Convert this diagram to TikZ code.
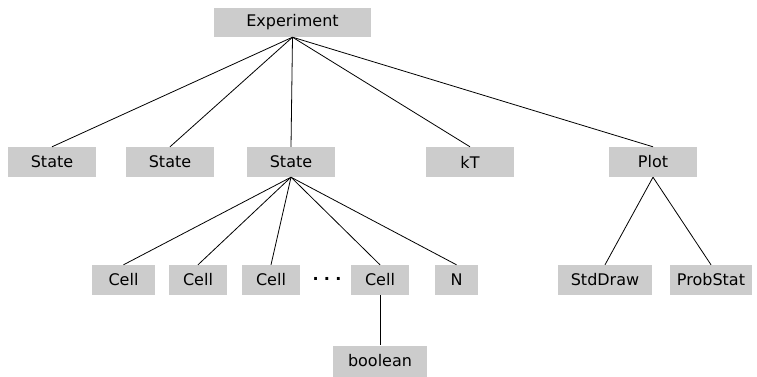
\documentclass[tikz,border=0pt]{standalone}
\usepackage{fontspec}
\setmainfont{DejaVu Sans}
\begin{document}
\begin{tikzpicture}[x=1pt,y=-1pt,
  box/.style={fill=boxgray,draw=none,inner sep=0pt,minimum height=30pt,font=\fontsize{16}{19}\selectfont,text=black},
  link/.style={draw=black,line width=0.8pt}]
\definecolor{boxgray}{HTML}{CCCCCC}
\useasboundingbox (0,0) rectangle (757,377);
\node[box,minimum width=157pt,minimum height=29pt] (exp) at (292.5,22.5) {Experiment};
\node[box,minimum width=88pt] (s1) at (52,162) {State};
\node[box,minimum width=88pt] (s2) at (170,162) {State};
\node[box,minimum width=88pt] (s3) at (291,162) {State};
\node[box,minimum width=88pt] (kt) at (470,162) {kT};
\node[box,minimum width=88pt] (plot) at (653,162) {Plot};
\node[box,minimum width=63pt] (c1) at (123.5,280) {Cell};
\node[box,minimum width=58pt] (c2) at (198,280) {Cell};
\node[box,minimum width=58pt] (c3) at (271,280) {Cell};
\node[font=\fontsize{16}{19}\selectfont\bfseries] (dots) at (327,279) {.\,\,.\,\,.};
\node[box,minimum width=58pt] (c4) at (380,280) {Cell};
\node[box,minimum width=43pt] (n) at (456.5,280) {N};
\node[box,minimum width=94pt,minimum height=31pt] (bool) at (380,361) {boolean};
\node[box,minimum width=94pt] (sd) at (605,280) {StdDraw};
\node[box,minimum width=82pt] (ps) at (711,280) {ProbStat};
\foreach \c in {s1,s2,s3,kt,plot} \draw[link] (exp.south) -- (\c.north);
\foreach \c in {c1,c2,c3,c4,n} \draw[link] (s3.south) -- (\c.north);
\draw[link] (plot.south) -- (sd.north);
\draw[link] (plot.south) -- (ps.north);
\draw[link] (c4.south) -- (bool.north);
\end{tikzpicture}
\end{document}
